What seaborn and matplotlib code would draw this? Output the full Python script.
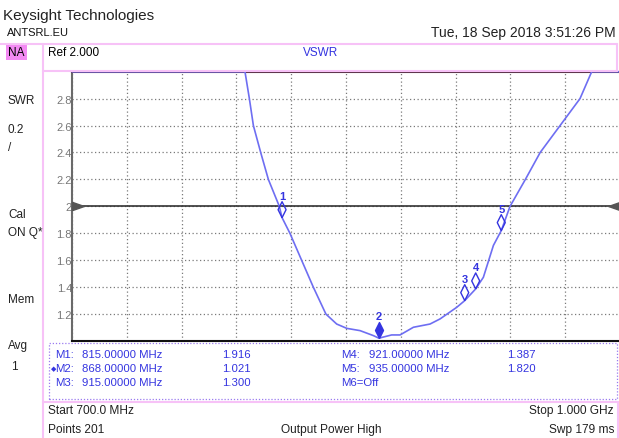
import matplotlib
matplotlib.use("Agg")
import numpy as np
import pandas as pd
import seaborn as sns
import matplotlib.pyplot as plt
from matplotlib.path import Path
from matplotlib.markers import MarkerStyle
from matplotlib.patches import Rectangle
from matplotlib.lines import Line2D

# ---------------- data ----------------
freq_mhz = [700.0, 794.7, 797.1, 799.3, 803.3, 807.5, 813.5, 815.0, 819.3, 825.7,
            832.1, 839.0, 844.9, 850.4, 857.7, 865.0, 868.0, 875.0, 879.6, 886.9,
            896.0, 901.5, 910.6, 915.0, 921.0, 925.2, 930.7, 935.0, 939.8, 948.2,
            956.3, 967.2, 978.1, 984.5, 1000.0]
vswr = [3.0, 3.0, 2.8, 2.6, 2.4, 2.2, 2.0, 1.916, 1.8, 1.6,
        1.4, 1.2, 1.126, 1.094, 1.077, 1.040, 1.021, 1.045, 1.045, 1.102,
        1.126, 1.164, 1.25, 1.300, 1.387, 1.473, 1.71, 1.820, 2.0, 2.2,
        2.4, 2.6, 2.8, 3.0, 3.0]

marker_ids = [1, 2, 3, 4, 5]
marker_freq = [815.0, 868.0, 915.0, 921.0, 935.0]
marker_val = [1.916, 1.021, 1.300, 1.387, 1.820]
active_marker = 2

ref_level = 2.0
y_ticks = [1.2, 1.4, 1.6, 1.8, 2.0, 2.2, 2.4, 2.6, 2.8]
y_tick_labels = ["1.2", "1.4", "1.6", "1.8", "2", "2.2", "2.4", "2.6", "2.8"]
x_grid = [700, 730, 760, 790, 820, 850, 880, 910, 940, 970, 1000]

table_left = [("M1:", "815.00000 MHz", "1.916"),
              ("M2:", "868.00000 MHz", "1.021"),
              ("M3:", "915.00000 MHz", "1.300")]
table_right = [("M4:", "921.00000 MHz", "1.387"),
               ("M5:", "935.00000 MHz", "1.820"),
               ("M6=Off", "", "")]

# ---------------- style ----------------
sns.set_theme(style="white")
plt.rcParams["font.family"] = ["Liberation Sans", "DejaVu Sans"]

W, H = 619, 439
fig = plt.figure(figsize=(W / 100, H / 100), dpi=100)
fig.patch.set_facecolor("white")


def fx(x):
    return x / W


def fy(y):
    return 1 - y / H


PINK = "#f7c2f7"
BLUE = "#3434e0"
TRACE = "#6e6ef2"

ax = fig.add_axes([fx(72), fy(342), 548 / W, (342 - 72.7) / H])
ax.set_facecolor("white")

df = pd.DataFrame({"freq": freq_mhz, "vswr": vswr})
sns.lineplot(data=df, x="freq", y="vswr", ax=ax, color=TRACE, lw=1.2,
             clip_on=False, zorder=4, sort=False)

ax.set_xlim(700, 1000)
ax.set_ylim(1.0, 3.0)
ax.set_xticks(x_grid)
ax.set_xticklabels([])
ax.set_yticks(y_ticks)
ax.set_yticklabels(y_tick_labels)
ax.grid(True, linestyle=(0, (1, 2)), color="#7a7a7a", lw=0.9)
ax.tick_params(axis="both", length=0, labelsize=8, colors="#777777", pad=0)
ax.set_xlabel("")
ax.set_ylabel("")

for side, col, lw in [("left", "#6a6a6a", 1.5), ("bottom", "#111111", 1.5),
                      ("top", "#5a3048", 1.5)]:
    ax.spines[side].set_color(col)
    ax.spines[side].set_linewidth(lw)
    ax.spines[side].set_visible(True)
ax.spines["right"].set_visible(False)

# reference line and triangles
ax.axhline(ref_level, color="#333333", lw=1.2, zorder=3)
tri_r = MarkerStyle(Path([(0, -0.35), (1, 0), (0, 0.35), (0, -0.35)]))
tri_l = MarkerStyle(Path([(0, -0.35), (-1, 0), (0, 0.35), (0, -0.35)]))
ax.plot([700], [ref_level], marker=tri_r, ms=17, color="#555555", clip_on=False, zorder=6)
ax.plot([1000], [ref_level], marker=tri_l, ms=17, color="#555555", clip_on=False, zorder=6)

# markers: diamond with bottom tip at the trace point
diamond = MarkerStyle(Path([(0, 0), (0.5, 1), (0, 2), (-0.5, 1), (0, 0)]))
mdf = pd.DataFrame({"freq": marker_freq, "vswr": marker_val, "id": marker_ids})
act = mdf[mdf["id"] == active_marker]
oth = mdf[mdf["id"] != active_marker]
sns.scatterplot(data=oth, x="freq", y="vswr", ax=ax, marker=diamond, s=23 ** 2,
                facecolor="none", edgecolor=BLUE, linewidth=1.0, zorder=7,
                clip_on=False, legend=False)
sns.scatterplot(data=act, x="freq", y="vswr", ax=ax, marker=diamond, s=23 ** 2,
                color=BLUE, edgecolor=BLUE, linewidth=1.0, zorder=7,
                clip_on=False, legend=False)
ax.set_xlabel("")
ax.set_ylabel("")
for mid, f, v in zip(marker_ids, marker_freq, marker_val):
    ax.annotate(str(mid), (f, v), xytext=(0, 15.7), textcoords="offset points",
                ha="center", va="center", fontsize=8, fontweight="bold",
                color=BLUE, zorder=8, annotation_clip=False)


# ---------------- frame decorations ----------------
def hline(y, x0, x1, color=PINK, lw=1.5, ls="-"):
    fig.add_artist(Line2D([fx(x0), fx(x1)], [fy(y), fy(y)], color=color, lw=lw, ls=ls))


def vline(x, y0, y1, color=PINK, lw=1.5, ls="-"):
    fig.add_artist(Line2D([fx(x), fx(x)], [fy(y0), fy(y1)], color=color, lw=lw, ls=ls))


hline(45, 0, 617)
hline(72, 43, 617)
vline(43, 45, 439)
vline(617, 45, 72)
hline(403, 43, 619)
vline(618, 403, 439)

# dotted marker table box
fig.add_artist(Rectangle((fx(49), fy(400)), (617 - 49) / W, (400 - 344) / H,
                         fill=False, ec="#9a7af0", lw=0.9, ls=(0, (1, 1.5))))

# NA badge
fig.add_artist(Rectangle((fx(6), fy(61)), 21 / W, 15 / H, fc="#f38af3", ec="none"))


def t(x, y, s, size=8.5, color="black", ha="left", **kw):
    fig.text(fx(x), fy(y), s, fontsize=size, color=color, ha=ha, va="center", **kw)


t(3, 16, "Keysight Technologies", size=11, color="#222222")
t(7, 33, "ANTSRL.EU", size=8, color="#111111")
t(616, 33, "Tue, 18 Sep 2018 3:51:26 PM", size=10, color="#222222", ha="right")
t(8, 53, "NA", size=8.5)
t(48, 53, "Ref 2.000", size=8.5)
t(303, 53, "VSWR", size=8.5, color=BLUE)

for y, s in [(101, "SWR"), (130, "0.2"), (148, "/"), (215, "Cal"), (233, "ON Q*"),
             (300, "Mem"), (346, "Avg"), (367, "1")]:
    t(8 if s != "1" else 11, y, s, size=8.5, color="#222222")

rows_y = [355, 369, 383]
for (m, fr, val), y in zip(table_left, rows_y):
    t(55, y, m, size=8.2, color=BLUE)
    t(82, y, fr, size=8.2, color=BLUE)
    t(222, y, val, size=8.2, color=BLUE)
for (m, fr, val), y in zip(table_right, rows_y):
    t(341, y, m, size=8.2, color=BLUE)
    t(369, y, fr, size=8.2, color=BLUE)
    t(507, y, val, size=8.2, color=BLUE)
t(50.5, 369, "\u25c6", size=5, color=BLUE, ha="left", family=["DejaVu Sans"])

t(48, 411, "Start 700.0 MHz", size=8.6, color="#222222")
t(48, 430, "Points 201", size=8.6, color="#222222")
t(331, 430, "Output Power High", size=8.6, color="#222222", ha="center")
t(614, 411, "Stop 1.000 GHz", size=8.6, color="#222222", ha="right")
t(614, 430, "Swp 179 ms", size=8.6, color="#222222", ha="right")

fig.savefig("out.png", dpi=100)
